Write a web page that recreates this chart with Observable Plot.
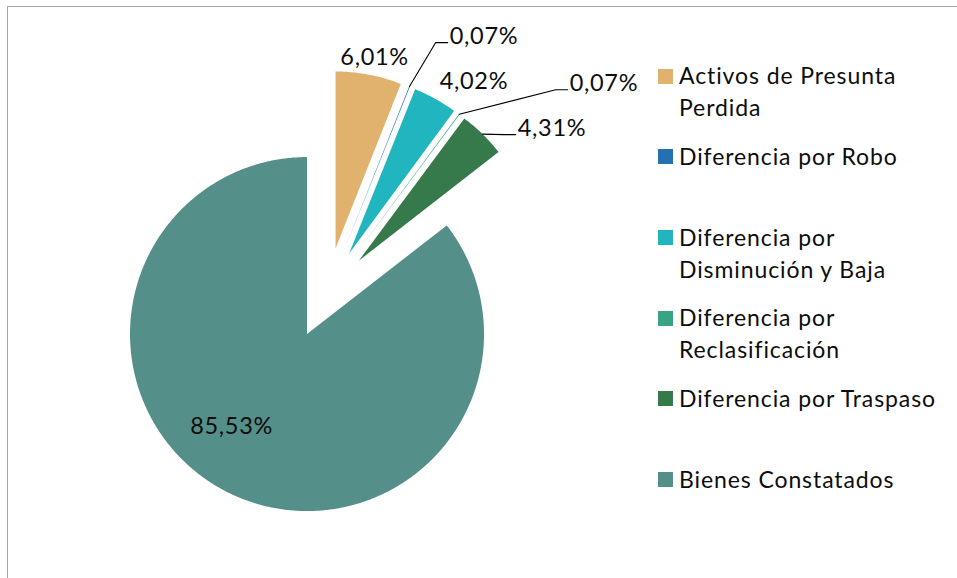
<!DOCTYPE html>
<html><head><meta charset="utf-8">
<script src="https://cdn.jsdelivr.net/npm/d3@7"></script>
<script src="https://cdn.jsdelivr.net/npm/@observablehq/plot@0.6"></script>
<style>
html,body{margin:0;padding:0;background:#fff;}
#wrap{position:relative;width:957px;height:578px;overflow:hidden;font-family:Lato,sans-serif;background:#fff;}
#chart{position:absolute;left:0;top:0;}
#chart text{letter-spacing:0.7px;}
#frame{position:absolute;left:7px;top:6px;width:1000px;height:1000px;border:1.5px solid #a6a6a6;box-sizing:border-box;pointer-events:none;}
.lg-sw{position:absolute;width:15px;height:15px;}
.lg-tx{position:absolute;width:268px;font-size:23px;letter-spacing:0.9px;line-height:32px;color:#0d0d0d;}
</style></head><body>
<div id="wrap"><div id="chart"></div><div id="legend"></div><div id="frame"></div></div>
<script>
// ---- data ----
const categories = ["Activos de Presunta Perdida","Diferencia por Robo","Diferencia por Disminución y Baja","Diferencia por Reclasificación","Diferencia por Traspaso","Bienes Constatados"];
const percentages = [6.01, 0.07, 4.02, 0.07, 4.31, 85.53];
const valueLabels = ["6,01%","0,07%","4,02%","0,07%","4,31%","85,53%"];
const colors = ["#E0B26E","#2371B1","#21B5BF","#3AA384","#367A4B","#558F8A"];

// ---- layout (not data) ----
const W = 957, H = 578;
const cx = 326.5, cy = 292.7, k = 177;     // pie centre (px) and radius (px)
const explode = 0.257;                       // explosion, in radius units
const labelPlacement = [                     // polar placement of value labels (deg, radius units)
  {angle: 11.4, r: 1.361, leader: false},
  {angle: 25.9, r: 1.574, leader: true},
  {angle: 34.7, r: 1.458, leader: false},
  {angle: 49.9, r: 1.785, leader: true},
  {angle: 50.1, r: 1.397, leader: true},
  {angle: 215.6, r: 0.926, leader: false}
];
const rad = d => d * Math.PI / 180;
const polar = (a, r) => [Math.sin(rad(a)) * r, Math.cos(rad(a)) * r];

const total = d3.sum(percentages);
let acc = 0;
const slices = categories.map((name, i) => {
  const a0 = acc / total * 360;
  acc += percentages[i];
  const a1 = acc / total * 360;
  const mid = (a0 + a1) / 2;
  const [ox, oy] = polar(mid, explode);
  return {name, i, a0, a1, mid, ox, oy};
});

const slicePts = [];
for (const s of slices) {
  slicePts.push({name: s.name, x: s.ox, y: s.oy});
  const n = Math.max(2, Math.ceil((s.a1 - s.a0) / 0.5));
  for (let j = 0; j <= n; j++) {
    const a = s.a0 + (s.a1 - s.a0) * j / n;
    const [px, py] = polar(a, 1);
    slicePts.push({name: s.name, x: s.ox + px, y: s.oy + py});
  }
  slicePts.push({name: s.name, x: s.ox, y: s.oy});
}

const centerLabels = [], leaderLabels = [], leaderPts = [];
slices.forEach((s, i) => {
  const p = labelPlacement[i];
  const [lx, ly] = polar(p.angle, p.r);
  if (p.leader) {
    leaderLabels.push({text: valueLabels[i], x: lx, y: ly});
    const [sx, sy] = polar(s.mid, 1);
    leaderPts.push({name: s.name, x: s.ox + sx, y: s.oy + sy});
    leaderPts.push({name: s.name, x: lx - 13 / k, y: ly});
    leaderPts.push({name: s.name, x: lx - 1 / k, y: ly});
  } else {
    centerLabels.push({text: valueLabels[i], x: lx, y: ly});
  }
});

const chart = Plot.plot({
  width: W, height: H,
  margin: 0,
  x: {domain: [-cx / k, (W - cx) / k], range: [0, W], axis: null},
  y: {domain: [(cy - H) / k, cy / k], range: [H, 0], axis: null},
  color: {domain: categories, range: colors},
  style: {background: "transparent", fontFamily: "Lato, sans-serif"},
  marks: [
    Plot.line(slicePts, {x: "x", y: "y", z: "name", fill: "name", stroke: "none", curve: "linear"}),
    Plot.line(leaderPts, {x: "x", y: "y", z: "name", stroke: "#000", strokeWidth: 1.1, curve: "linear"}),
    Plot.text(centerLabels, {x: "x", y: "y", text: "text", fontSize: 23.5, fill: "#0d0d0d", textAnchor: "middle", lineAnchor: "middle"}),
    Plot.text(leaderLabels, {x: "x", y: "y", text: "text", fontSize: 23.5, fill: "#0d0d0d", textAnchor: "start", lineAnchor: "bottom", dy: 1, dx: 1})
  ]
});
document.getElementById("chart").appendChild(chart);

// ---- legend ----
const legend = document.getElementById("legend");
categories.forEach((name, i) => {
  const capCenter = 76 + 80.7 * i;
  const sw = document.createElement("div");
  sw.className = "lg-sw";
  sw.style.left = "658px";
  sw.style.top = (capCenter - 7.5) + "px";
  sw.style.background = colors[i];
  legend.appendChild(sw);
  const tx = document.createElement("div");
  tx.className = "lg-tx";
  tx.style.left = "679px";
  tx.style.top = (capCenter - 16.8) + "px";
  tx.textContent = name;
  legend.appendChild(tx);
});
</script>
</body></html>
